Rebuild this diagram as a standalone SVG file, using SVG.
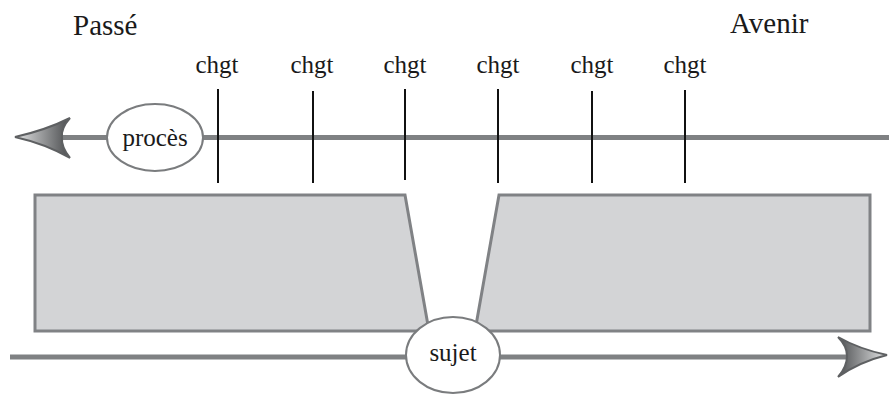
<svg xmlns="http://www.w3.org/2000/svg" width="889" height="395" viewBox="0 0 889 395">
<style>
text{font-family:"Liberation Serif","Times New Roman",serif;fill:#1a1a1a}
.big{font-size:29px}
.lbl{font-size:25px;text-anchor:middle}
.axis{stroke:#7f8183;stroke-width:5;fill:none}
.tick{stroke:#111;stroke-width:2}
.block{fill:#d3d4d6;stroke:#808285;stroke-width:3}
.node{fill:#fff;stroke:#7a7c7e;stroke-width:2}
.head{stroke:#5e6062;stroke-width:2;stroke-linejoin:miter}
</style>
<defs>
<linearGradient id="gl" x1="70" y1="0" x2="14" y2="0" gradientUnits="userSpaceOnUse">
<stop offset="0" stop-color="#4a4c4e"/><stop offset="1" stop-color="#e6e7e8"/>
</linearGradient>
<linearGradient id="gr" x1="837" y1="0" x2="888" y2="0" gradientUnits="userSpaceOnUse">
<stop offset="0" stop-color="#4a4c4e"/><stop offset="1" stop-color="#e6e7e8"/>
</linearGradient>
</defs>
<g id="blocks">
<polygon class="block" points="35,195 405,195 429,331 35,331"/>
<polygon class="block" points="499,195 870,195 870,331 475,331"/>
</g>
<g id="connectors">
<line class="axis" x1="62" y1="137.5" x2="889" y2="137.5"/>
<path class="head" fill="url(#gl)" d="M15,137 Q46,130 70,118 Q61,128 62,137 Q61,147 70,158 Q46,144 15,137 Z"/>
<line class="axis" x1="10" y1="357" x2="848" y2="357"/>
<path class="head" fill="url(#gr)" d="M887,355 Q859,349 838,337 Q847,346 847,356 Q847,367 838,377 Q859,362 887,355 Z"/>
<line class="tick" x1="218" y1="89" x2="218" y2="183"/>
<line class="tick" x1="313" y1="91" x2="313" y2="183"/>
<line class="tick" x1="405" y1="89" x2="405" y2="180"/>
<line class="tick" x1="498" y1="89" x2="498" y2="183"/>
<line class="tick" x1="592" y1="91" x2="592" y2="183"/>
<line class="tick" x1="685" y1="90" x2="685" y2="183"/>
</g>
<g id="titles">
<text class="big" x="73" y="35">Passé</text>
<text class="big" x="730" y="33">Avenir</text>
</g>
<g id="chgt-labels">
<text class="lbl" x="217" y="73">chgt</text>
<text class="lbl" x="312" y="73">chgt</text>
<text class="lbl" x="405" y="73">chgt</text>
<text class="lbl" x="498" y="73">chgt</text>
<text class="lbl" x="592" y="73">chgt</text>
<text class="lbl" x="685" y="73">chgt</text>
</g>
<g id="node-proces">
<ellipse class="node" cx="155" cy="137.5" rx="48" ry="33.5"/>
<text class="lbl" x="155" y="146">procès</text>
</g>
<g id="node-sujet">
<ellipse class="node" cx="453" cy="355" rx="47" ry="38"/>
<text class="lbl" x="453" y="361">sujet</text>
</g>
</svg>
